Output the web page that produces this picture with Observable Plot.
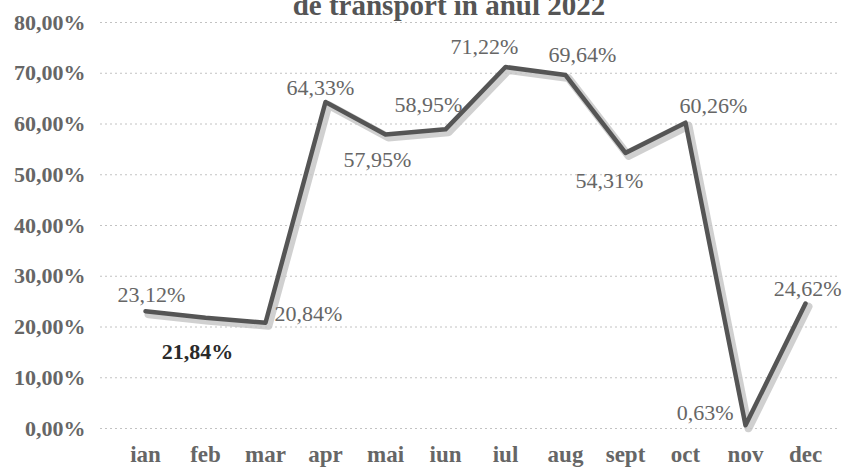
<!DOCTYPE html>
<html>
<head>
<meta charset="utf-8">
<script src="https://cdn.jsdelivr.net/npm/d3@7"></script>
<script src="https://cdn.jsdelivr.net/npm/@observablehq/plot@0.6"></script>
<style>
  html, body { margin: 0; padding: 0; background: #fff; overflow: hidden; }
  #wrap { position: relative; width: 847px; height: 468px; overflow: hidden; }
  #title { position: absolute; top: -11px; left: 0; width: 898px; text-align: center; line-height: 29px;
    font: bold 29px "Liberation Serif", "DejaVu Serif", serif; color: #555; white-space: nowrap; }
  #chart { position: absolute; top: 0; left: 0; }
</style>
</head>
<body>
<div id="wrap">
  <div id="chart"></div>
  <div id="title">de transport in anul 2022</div>
</div>
<script>
const months = ["ian","feb","mar","apr","mai","iun","iul","aug","sept","oct","nov","dec"];
const values = [23.12, 21.84, 20.84, 64.33, 57.95, 58.95, 71.22, 69.64, 54.31, 60.26, 0.63, 24.62];
const yTicks = [0,10,20,30,40,50,60,70,80];

// label placement (pixels) per month, style only
const labelPlace = {
  ian: {dx: 6, dy: -16, anchor: "middle"},
  feb: {dx: -8, dy: 34, anchor: "middle", bold: true},
  mar: {dx: 9, dy: -9, anchor: "start"},
  apr: {dx: -5, dy: -14, anchor: "middle"},
  mai: {dx: -8, dy: 26, anchor: "middle"},
  iun: {dx: -17, dy: -24, anchor: "middle"},
  iul: {dx: -21, dy: -20, anchor: "middle"},
  aug: {dx: 17, dy: -20, anchor: "middle"},
  sept: {dx: -16, dy: 28, anchor: "middle"},
  oct: {dx: 28, dy: -17, anchor: "middle"},
  nov: {dx: -12, dy: -12, anchor: "end"},
  dec: {dx: 36, dy: -15, anchor: "end"}
};

const data = months.map((m, i) => ({month: m, value: values[i]}));
const fmt = v => v.toFixed(2).replace(".", ",") + "%";
const serif = '"Liberation Serif", "DejaVu Serif", serif';

const labelMarks = data.map(d => {
  const p = labelPlace[d.month];
  return Plot.text([d], {
    x: "month", y: "value", text: r => fmt(r.value),
    dx: p.dx, dy: p.dy, textAnchor: p.anchor,
    fill: p.bold ? "#2a2a2a" : "#666",
    fontWeight: p.bold ? "bold" : "normal",
    fontSize: 22, fontFamily: serif
  });
});

const chart = Plot.plot({
  width: 847,
  height: 468,
  marginLeft: 140,
  marginRight: 37,
  marginTop: 22,
  marginBottom: 40,
  style: {fontFamily: serif, background: "transparent"},
  x: {type: "point", domain: months, padding: 0, label: null},
  y: {domain: [0, 80], ticks: yTicks, label: null},
  marks: [
    Plot.ruleY(yTicks, {insetLeft: -40, insetRight: -30, stroke: "#999", strokeOpacity: 0.6, strokeDasharray: "2,3", strokeWidth: 1}),
    Plot.axisY(yTicks, {tickSize: 0, tickPadding: 0, dx: -55, tickFormat: d => fmt(d), fontSize: 22, fontWeight: "bold", fill: "#666", fontFamily: serif}),
    Plot.axisX(months, {tickSize: 0, tickPadding: 17, fontSize: 23, fontWeight: "bold", fill: "#666", fontFamily: serif}),
    Plot.line(data, {x: "month", y: "value", stroke: "#c4c4c4", strokeWidth: 8, dx: 3, dy: 3, strokeOpacity: 0.8}),
    Plot.line(data, {x: "month", y: "value", stroke: "#555", strokeWidth: 4.5}),
    ...labelMarks
  ]
});
document.getElementById("chart").appendChild(chart);
</script>
</body>
</html>
